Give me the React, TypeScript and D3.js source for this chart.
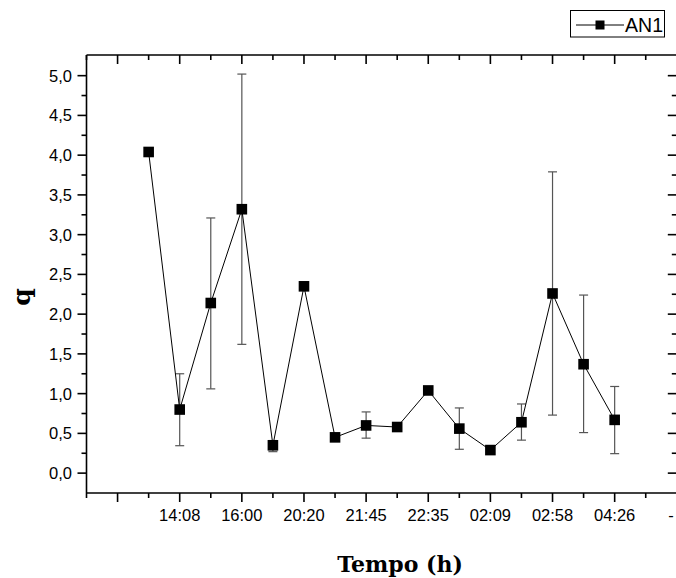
import * as d3 from 'd3'
import { useEffect, useRef } from 'react'

// x slot of each sample (axis runs from slot 0 to slot 19)
const slots = [2, 3, 4, 5, 6, 7, 8, 9, 10, 11, 12, 13, 14, 15, 16, 17]
const qValues = [4.04, 0.8, 2.14, 3.32, 0.35, 2.35, 0.45, 0.6, 0.58, 1.04, 0.56, 0.29, 0.64, 2.26, 1.37, 0.67]
const errUpper = [null, 1.25, 3.21, 5.02, 0.41, null, null, 0.77, null, null, 0.82, null, 0.87, 3.79, 2.24, 1.09]
const errLower = [null, 0.345, 1.06, 1.62, 0.27, null, null, 0.44, null, null, 0.3, null, 0.415, 0.73, 0.51, 0.245]

const labelSlots = [3, 5, 7, 9, 11, 13, 15, 17, 19]
const tickLabels = ['14:08', '16:00', '20:20', '21:45', '22:35', '02:09', '02:58', '04:26', '-']

const yTicks = [0, 0.5, 1, 1.5, 2, 2.5, 3, 3.5, 4, 4.5, 5]

const sans = '"Liberation Sans", Arial, sans-serif'
const serif = '"DejaVu Serif", serif'

function Plot() {
    const ref = useRef<SVGSVGElement>(null)

    useEffect(() => {
        const svg = d3.select(ref.current)
        svg.selectAll('*').remove()

        const left = 86.5
        const right = 676.8
        const top = 55
        const bottom = 493

        const x = d3.scaleLinear().domain([0, 19]).range([left, right])
        const y = d3.scaleLinear().domain([-0.25, 5.26]).range([bottom, top])

        const data = slots.map((s, i) => ({
            s,
            v: qValues[i],
            hi: errUpper[i],
            lo: errLower[i],
        }))

        // error bars
        const errs = svg
            .append('g')
            .attr('stroke', '#555')
            .attr('stroke-width', 1.2)
            .selectAll('g')
            .data(data.filter((d) => d.hi !== null))
            .enter()
            .append('g')

        errs.append('line')
            .attr('x1', (d) => x(d.s))
            .attr('x2', (d) => x(d.s))
            .attr('y1', (d) => y(d.hi as number))
            .attr('y2', (d) => y(d.lo as number))
        errs.append('line')
            .attr('x1', (d) => x(d.s) - 4.5)
            .attr('x2', (d) => x(d.s) + 4.5)
            .attr('y1', (d) => y(d.hi as number))
            .attr('y2', (d) => y(d.hi as number))
        errs.append('line')
            .attr('x1', (d) => x(d.s) - 4.5)
            .attr('x2', (d) => x(d.s) + 4.5)
            .attr('y1', (d) => y(d.lo as number))
            .attr('y2', (d) => y(d.lo as number))

        // connecting line
        const line = d3
            .line<{ s: number; v: number }>()
            .x((d) => x(d.s))
            .y((d) => y(d.v))
        svg.append('path')
            .attr('d', line(data))
            .attr('fill', 'none')
            .attr('stroke', '#000')
            .attr('stroke-width', 1)

        // markers
        svg.append('g')
            .selectAll('rect')
            .data(data)
            .enter()
            .append('rect')
            .attr('x', (d) => x(d.s) - 5.3)
            .attr('y', (d) => y(d.v) - 5.3)
            .attr('width', 10.6)
            .attr('height', 10.6)
            .attr('fill', '#000')

        // frame
        const frame = svg.append('g').attr('stroke', '#000').attr('stroke-width', 1.6)
        frame.append('line').attr('x1', left).attr('x2', right + 2).attr('y1', top).attr('y2', top)
        frame.append('line').attr('x1', left).attr('x2', right + 2).attr('y1', bottom).attr('y2', bottom)
        frame.append('line').attr('x1', left).attr('x2', left).attr('y1', top).attr('y2', bottom)
        frame.append('line').attr('x1', right).attr('x2', right).attr('y1', top).attr('y2', bottom)

        // x ticks, bottom (outward) and top (inward)
        const xSlots = d3.range(0, 20)
        const xt = svg.append('g').attr('stroke', '#000').attr('stroke-width', 1.6)
        xt.selectAll('line.b')
            .data(xSlots)
            .enter()
            .append('line')
            .attr('x1', (d) => x(d))
            .attr('x2', (d) => x(d))
            .attr('y1', bottom)
            .attr('y2', (d) => bottom + (d % 2 ? 9 : 5))
        xt.selectAll('line.t')
            .data(xSlots)
            .enter()
            .append('line')
            .attr('x1', (d) => x(d))
            .attr('x2', (d) => x(d))
            .attr('y1', top)
            .attr('y2', (d) => top + (d % 2 ? 9 : 5))

        svg.append('g')
            .selectAll('text')
            .data(labelSlots)
            .enter()
            .append('text')
            .attr('x', (d) => Math.min(x(d), 671))
            .attr('y', 521)
            .attr('text-anchor', 'middle')
            .attr('font-family', sans)
            .attr('font-size', 16.5)
            .attr('fill', '#000')
            .text((d, i) => tickLabels[i])

        // y ticks
        const yMinor = d3.range(0.25, 5.0, 0.5)
        const yt = svg.append('g').attr('stroke', '#000').attr('stroke-width', 1.6)
        yt.selectAll('line.lm')
            .data(yTicks)
            .enter()
            .append('line')
            .attr('x1', left - 9)
            .attr('x2', left)
            .attr('y1', (d) => y(d))
            .attr('y2', (d) => y(d))
        yt.selectAll('line.ln')
            .data(yMinor)
            .enter()
            .append('line')
            .attr('x1', left - 5)
            .attr('x2', left)
            .attr('y1', (d) => y(d))
            .attr('y2', (d) => y(d))
        yt.selectAll('line.rm')
            .data(yTicks)
            .enter()
            .append('line')
            .attr('x1', right - 9)
            .attr('x2', right)
            .attr('y1', (d) => y(d))
            .attr('y2', (d) => y(d))
        yt.selectAll('line.rn')
            .data(yMinor)
            .enter()
            .append('line')
            .attr('x1', right - 5)
            .attr('x2', right)
            .attr('y1', (d) => y(d))
            .attr('y2', (d) => y(d))

        svg.append('g')
            .selectAll('text')
            .data(yTicks)
            .enter()
            .append('text')
            .attr('x', 72)
            .attr('y', (d) => y(d) + 6)
            .attr('text-anchor', 'end')
            .attr('font-family', sans)
            .attr('font-size', 16.5)
            .attr('fill', '#000')
            .text((d) => d3.format('.1f')(d).replace('.', ','))
    }, [])

    return (
        <svg
            ref={ref}
            width={676}
            height={578}
            style={{ position: 'absolute', left: 0, top: 0, background: '#fff' }}
        />
    )
}

function App() {
    return (
        <div>
            <Plot />
            <svg width={676} height={578} style={{ position: 'absolute', left: 0, top: 0, pointerEvents: 'none' }}>
                <rect x={570.5} y={10.5} width={94} height={26.5} fill="#fff" stroke="#000" strokeWidth={1} />
                <line x1={576} x2={624} y1={25} y2={25} stroke="#000" strokeWidth={1} />
                <rect x={595.5} y={20.5} width={9} height={9} fill="#000" />
                <text x={625} y={32} fontFamily={sans} fontSize={21} textLength={38} lengthAdjust="spacingAndGlyphs">
                    AN1
                </text>
                <text x={400} y={572} textAnchor="middle" fontFamily={serif} fontWeight="bold" fontSize={22}>
                    Tempo (h)
                </text>
                <text
                    transform="translate(30, 297) rotate(-90)"
                    textAnchor="middle"
                    fontFamily={serif}
                    fontWeight="bold"
                    fontSize={25}
                >
                    q
                </text>
            </svg>
        </div>
    )
}

export default App
